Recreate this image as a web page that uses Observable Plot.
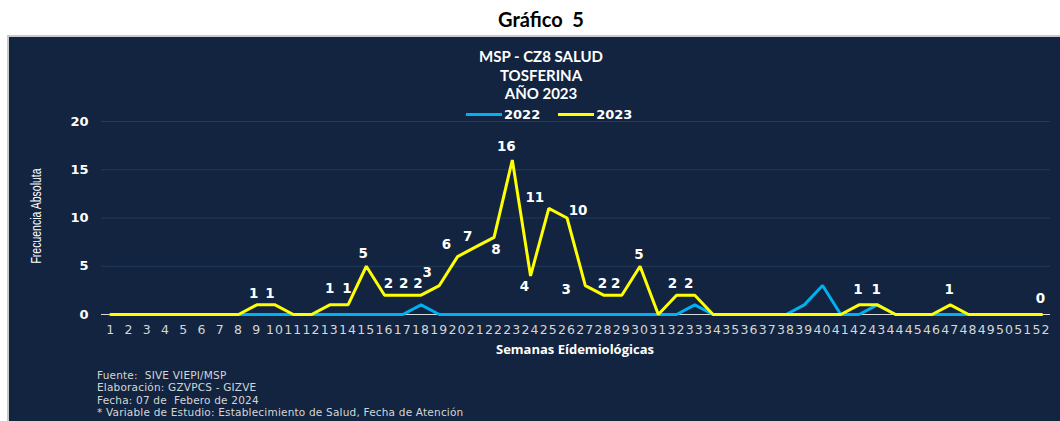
<!DOCTYPE html>
<html><head><meta charset="utf-8">
<script src="https://cdn.jsdelivr.net/npm/d3@7"></script>
<script src="https://cdn.jsdelivr.net/npm/@observablehq/plot@0.6"></script>
<style>
body{margin:0;background:#fff;width:1060px;height:421px;overflow:hidden;position:relative;font-family:Lato,sans-serif}
#page-title{position:absolute;top:7px;left:391px;width:300px;text-align:center;font:bold 20px Lato,sans-serif;color:#000;white-space:pre}
#panel{position:absolute;left:7px;top:35px;width:1053px;height:386px;background:#12243f;border-left:2px solid #c9c9c9;border-top:2px solid #c9c9c9;box-sizing:border-box}
#chart{position:absolute;left:8px;top:35px}
#titles{position:absolute;left:341px;top:47px;width:400px;text-align:center;color:#fff;font:bold 15px Lato,sans-serif;line-height:18.5px}
#legend{position:absolute;left:466px;top:106px;height:17px;display:flex;align-items:center;color:#fff;font:bold 13px "DejaVu Sans",sans-serif}
#legend .sw{display:inline-block;width:36px;height:3px;margin-right:2px}
#legend .item{display:flex;align-items:center;margin-right:18px}
#ylab{position:absolute;left:35px;top:216px;transform:translate(-50%,-50%) rotate(-90deg) scaleX(0.7);color:#fff;font:15px "Liberation Sans",Arial,sans-serif;white-space:nowrap}
#xlab{position:absolute;left:475px;top:340px;width:200px;text-align:center;color:#fff;font:bold 13px "Open Sans",sans-serif;white-space:nowrap}
#footer{position:absolute;left:97px;top:369px;color:#d6d6d6;font:10.5px "DejaVu Sans",sans-serif;letter-spacing:0.2px;line-height:12.3px;white-space:pre}
#chart g[aria-label="x-axis tick label"] text{letter-spacing:1.2px}
</style>
</head><body>
<div id="page-title"></div>
<div id="panel"></div>
<div id="chart"></div>
<div id="titles"></div>
<div id="legend"></div>
<div id="ylab"></div>
<div id="xlab"></div>
<div id="footer"></div>
<script>
// ---- data ----
const pageTitle = "Gráfico  5";
const titleLines = ["MSP - CZ8 SALUD", "TOSFERINA", "AÑO 2023"];
const seriesNames = ["2022", "2023"];
const weeks = [1,2,3,4,5,6,7,8,9,10,11,12,13,14,15,16,17,18,19,20,21,22,23,24,25,26,27,28,29,30,31,32,33,34,35,36,37,38,39,40,41,42,43,44,45,46,47,48,49,50,51,52];
const values2022 = [0,0,0,0,0,0,0,0,0,0, 0,0,0,0,0,0,0,1,0,0, 0,0,0,0,0,0,0,0,0,0, 0,0,1,0,0,0,0,0,1,3, 0,0,1,0,0,0,0,0,0,0, 0,0];
const values2023 = [0,0,0,0,0,0,0,0,1,1, 0,0,1,1,5,2,2,2,3,6, 7,8,16,4,11,10,3,2,2,5, 0,2,2,0,0,0,0,0,0,0, 0,1,1,0,0,0,1,0,0,0, 0,0];
const yTicks = [0,5,10,15,20];
const yLabel = "Frecuencia Absoluta";
const xLabel = "Semanas Eídemiológicas";
const footerLines = ["Fuente:  SIVE VIEPI/MSP","Elaboración: GZVPCS - GIZVE","Fecha: 07 de  Febero de 2024","* Variable de Estudio: Establecimiento de Salud, Fecha de Atención"];

// ---- styles ----
const colors = {"2022": "#00b0f0", "2023": "#ffff00"};
const labelOffsets = {9:[-3,-11],10:[-5,-11],13:[0,-16],14:[-1,-16],15:[-3,-13],16:[4,-12],17:[1,-12],18:[-3,-12],
  19:[-12,-13],20:[-11,-12],21:[-8,-10],22:[2,12],23:[-6,-13],24:[-6,11],25:[-14,-11],26:[11,-7],27:[-19,4],
  28:[-1,-12],29:[-6,-12],30:[-1,-12],32:[-4,-12],33:[-6,-12],42:[-1,-15],43:[-1,-15],47:[-1,-15],52:[-1,-16]};

document.getElementById("page-title").textContent = pageTitle;
document.getElementById("titles").innerHTML = titleLines.map(t => `<div>${t}</div>`).join("");
document.getElementById("legend").innerHTML = seriesNames.map(s => `<div class="item"><span class="sw" style="background:${colors[s]}"></span>${s}</div>`).join("");
document.getElementById("ylab").textContent = yLabel;
document.getElementById("xlab").textContent = xLabel;
document.getElementById("footer").textContent = footerLines.join("\n");

const d2022 = weeks.map((w,i) => ({week:w, value:values2022[i]}));
const d2023 = weeks.map((w,i) => ({week:w, value:values2023[i]}));
const labelData = d2023.filter(d => d.value > 0 || d.week === weeks[weeks.length-1]);
const groups = d3.groups(labelData, d => (labelOffsets[d.week] || [-1,-12]).join(","));
const labelMarks = groups.map(([key, rows]) => {
  const [dx, dy] = key.split(",").map(Number);
  return Plot.text(rows, {x:"week", y:"value", text: d => String(d.value), dx, dy,
    fill:"#fff", fontSize:13.5, fontWeight:"bold", fontFamily:"DejaVu Sans"});
});

const chart = Plot.plot({
  width:1052, height:386,
  marginTop:86, marginBottom:107, marginLeft:93, marginRight:10,
  style:{background:"transparent", overflow:"visible"},
  x:{domain:[0.49,52.49]},
  y:{domain:[0,20]},
  marks:[
    Plot.gridY(yTicks.filter(t => t > 0), {stroke:"#1f3b60", strokeOpacity:1, strokeWidth:1.2}),
    Plot.ruleY([0], {stroke:"#d9d9d9", strokeWidth:1}),
    Plot.axisY({ticks:yTicks, tickSize:0, tickPadding:13, fill:"#fff", fontSize:13, fontWeight:"bold", fontFamily:"DejaVu Sans", label:null}),
    Plot.axisX({ticks:weeks, tickSize:0, tickPadding:11, tickFormat:d => String(d), fill:"#d6d6d6", fontSize:12.5, fontFamily:"DejaVu Sans", label:null}),
    Plot.line(d2022, {x:"week", y:"value", stroke:colors["2022"], strokeWidth:3, strokeLinejoin:"miter"}),
    Plot.line(d2023, {x:"week", y:"value", stroke:colors["2023"], strokeWidth:3, strokeLinejoin:"miter"}),
    ...labelMarks
  ]
});
document.getElementById("chart").appendChild(chart);
</script>
</body></html>
